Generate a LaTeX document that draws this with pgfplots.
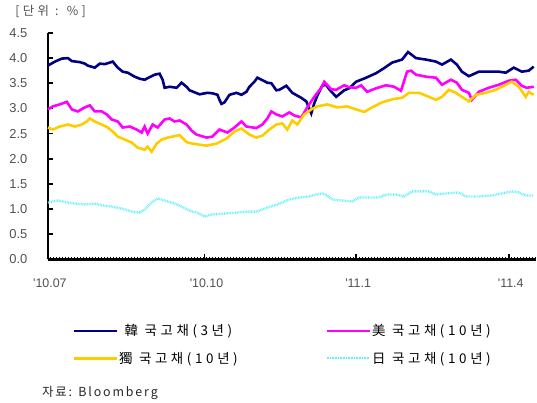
\documentclass[border=0pt]{standalone}
\usepackage{fontspec}
\setmainfont{Liberation Sans}
\newfontfamily\kr[LetterSpace=15]{Noto Sans CJK KR}
\newfontfamily\krl[LetterSpace=27]{Noto Sans CJK KR}
\usepackage{pgfplots}
\pgfplotsset{compat=1.18}
\definecolor{kblue}{RGB}{0,0,128}
\definecolor{umag}{RGB}{255,0,255}
\definecolor{gyel}{RGB}{255,204,0}
\definecolor{jcyan}{RGB}{100,240,250}
\definecolor{tgray}{RGB}{80,80,80}
\begin{document}
\begin{tikzpicture}
\begin{axis}[
  scale only axis, width=489bp, height=227bp,
  xmin=48, xmax=537, ymin=0, ymax=4.5,
  clip=false,
  axis lines=left,
  axis line style={-, line width=2.6bp, black},
  xtick={48,205,357,510},
  xticklabels={\textquotesingle10.07,\textquotesingle10.10,\textquotesingle11.1,\textquotesingle11.4},
  minor xtick={48,51,...,537},
  ytick={0,0.5,...,4.5},
  tick align=inside,
  major tick length=5bp, minor tick length=2.5bp,
  every tick/.style={black, line width=1.8bp},
  every minor tick/.style={black, line width=0.8bp},
  /pgf/number format/.cd, fixed, fixed zerofill, precision=1, assume math mode=true,
  /pgfplots/.cd,
  yticklabel style={font=\fontsize{13}{15}\selectfont, text=tgray, xshift=-17bp},
  xticklabel style={font=\fontsize{12.5}{15}\selectfont, text=tgray, yshift=-16bp, xshift=2bp},
  legend columns=2,
  legend style={at={(rel axis cs:0.044,-0.270)}, anchor=north west, draw=none, fill=none,
    font=\krl\fontsize{13.5}{16}\selectfont, row sep=10.5bp,
    nodes={inner xsep=1bp},
    /tikz/every even column/.append style={column sep=87bp}},
  legend image code/.code={\draw[#1] (0bp,0bp) -- (43bp,0bp);},
]
\addplot[kblue, line width=2.6bp] coordinates {
(48,3.85)(55,3.93)(62,3.99)(68,4.00)(72,3.94)(80,3.92)(85,3.89)(88,3.85)(95,3.81)(100,3.89)
(105,3.88)(110,3.91)(113,3.93)(118,3.81)(123,3.73)(128,3.71)(135,3.63)(140,3.59)(145,3.57)(150,3.62)
(155,3.67)(160,3.69)(163,3.57)(165,3.41)(170,3.43)(177,3.41)(182,3.51)(187,3.43)(190,3.36)(200,3.28)
(208,3.31)(213,3.30)(218,3.27)(220,3.17)(222,3.09)(225,3.12)(230,3.27)(237,3.31)(242,3.27)(247,3.33)
(250,3.43)(255,3.53)(258,3.61)(263,3.56)(268,3.51)(272,3.50)(277,3.36)(280,3.37)(287,3.45)(293,3.31)
(302,3.21)(307,3.14)(312,2.90)(315,3.10)(318,3.25)(323,3.45)(327,3.47)(330,3.38)(337,3.23)(345,3.36)
(350,3.40)(357,3.53)(367,3.61)(377,3.70)(385,3.80)(393,3.91)(403,3.97)(409,4.12)(417,4.00)(427,3.97)
(437,3.93)(443,3.87)(452,3.97)(458,3.87)(463,3.73)(470,3.64)(480,3.73)(490,3.73)(500,3.73)(507,3.71)
(515,3.81)(523,3.73)(530,3.75)(535,3.83)};
\addlegendentry{韓 국고채(3년)}
\addplot[umag, line width=2.6bp] coordinates {
(48,2.98)(53,3.04)(60,3.08)(67,3.13)(72,2.98)(78,2.94)(85,3.02)(90,3.06)(95,2.94)(102,2.94)
(107,2.88)(112,2.78)(118,2.74)(123,2.62)(130,2.64)(137,2.58)(142,2.52)(145,2.64)(148,2.50)(153,2.68)
(158,2.62)(165,2.78)(170,2.80)(175,2.74)(180,2.76)(187,2.68)(192,2.56)(197,2.48)(207,2.42)(213,2.44)
(220,2.58)(228,2.52)(235,2.62)(242,2.74)(247,2.64)(257,2.61)(263,2.68)(268,2.80)(272,2.94)(277,2.88)
(283,2.84)(290,2.92)(295,2.86)(302,2.82)(308,3.02)(315,3.23)(322,3.41)(325,3.53)(332,3.38)(337,3.37)
(345,3.46)(350,3.42)(357,3.41)(362,3.46)(368,3.33)(377,3.40)(387,3.46)(395,3.43)(402,3.35)(408,3.73)
(412,3.75)(417,3.67)(427,3.63)(437,3.61)(443,3.47)(452,3.57)(458,3.51)(463,3.37)(470,3.31)(473,3.17)
(480,3.33)(490,3.41)(500,3.47)(510,3.55)(517,3.57)(523,3.45)(528,3.41)(535,3.43)};
\addlegendentry{美 국고채(10년)}
\addplot[gyel, line width=2.6bp] coordinates {
(48,2.62)(53,2.58)(60,2.64)(68,2.68)(75,2.64)(82,2.68)(87,2.74)(90,2.80)(95,2.74)(102,2.68)
(108,2.62)(113,2.54)(118,2.44)(125,2.38)(132,2.32)(138,2.22)(145,2.18)(148,2.24)(152,2.14)(157,2.30)
(162,2.38)(168,2.42)(173,2.44)(180,2.47)(187,2.33)(193,2.30)(200,2.28)(207,2.26)(217,2.30)(227,2.40)
(235,2.54)(242,2.60)(250,2.48)(257,2.42)(263,2.46)(270,2.58)(277,2.68)(283,2.70)(288,2.58)(293,2.76)
(298,2.68)(305,2.88)(312,2.98)(318,3.04)(328,3.08)(338,3.02)(348,3.04)(357,2.98)(365,2.93)(373,3.02)
(383,3.12)(395,3.19)(403,3.21)(410,3.31)(420,3.31)(430,3.23)(437,3.17)(443,3.23)(450,3.37)(457,3.31)
(463,3.23)(470,3.14)(477,3.27)(487,3.31)(497,3.37)(507,3.47)(513,3.53)(520,3.43)(527,3.23)(530,3.33)
(535,3.27)};
\addlegendentry{獨 국고채(10년)}
\addplot[jcyan, line width=2.4bp, dash pattern=on 0.8bp off 0.8bp] coordinates {
(48,1.13)(58,1.17)(68,1.13)(75,1.11)(85,1.09)(95,1.11)(103,1.07)(112,1.05)(122,1.01)(132,0.95)
(140,0.93)(145,0.99)(152,1.13)(158,1.21)(168,1.15)(175,1.11)(182,1.05)(192,0.95)(198,0.93)(205,0.85)
(212,0.89)(225,0.91)(238,0.93)(248,0.95)(258,0.95)(268,1.03)(278,1.09)(290,1.19)(300,1.23)(310,1.25)
(317,1.29)(323,1.31)(328,1.27)(333,1.19)(343,1.17)(353,1.15)(360,1.23)(370,1.23)(380,1.23)(387,1.29)
(397,1.29)(405,1.25)(413,1.35)(423,1.35)(430,1.35)(437,1.29)(447,1.31)(460,1.33)(467,1.25)(480,1.25)
(493,1.27)(503,1.31)(513,1.35)(520,1.33)(527,1.27)(535,1.27)};
\addlegendentry{日 국고채(10년)}
\node[anchor=west, font=\krl\fontsize{12.5}{14}\selectfont, text=tgray] at (rel axis cs:-0.074,1.093) {[단위 : \%]};
\node[anchor=west, font=\kr\fontsize{12.5}{15}\selectfont, text=black!85] at (rel axis cs:-0.019,-0.590) {자료: Bloomberg};
\path (rel axis cs:-0.0982,1.1454) rectangle (rel axis cs:1,-0.630);
\end{axis}
\end{tikzpicture}
\end{document}
